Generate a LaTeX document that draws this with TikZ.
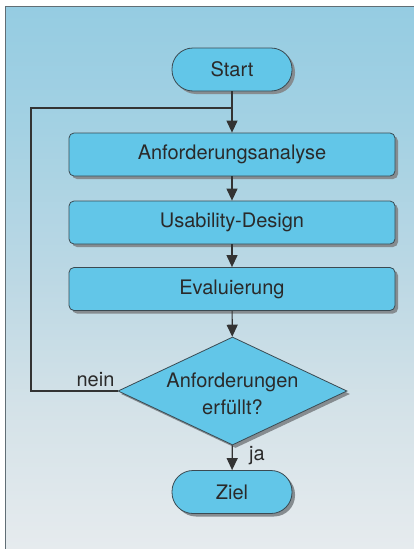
\documentclass[tikz,border=0pt]{standalone}
\usepackage{fontspec}
\setmainfont{TeX Gyre Heros}
\usetikzlibrary{shapes.geometric,shadows,arrows.meta}
\definecolor{bgT}{HTML}{95CCE2}
\definecolor{bgT2}{HTML}{A3D1E3}
\definecolor{bgM}{HTML}{BCD8E4}
\definecolor{bgC}{HTML}{D4E2E8}
\definecolor{bgB}{HTML}{E6EBEE}
\definecolor{boxfill}{HTML}{62C6E8}
\definecolor{boxline}{HTML}{3A4A52}
\definecolor{shadowc}{HTML}{868C90}
\definecolor{txt}{HTML}{2A2A2A}
\definecolor{arrowc}{HTML}{333333}
\pgfdeclareverticalshading{bgshade}{100bp}{color(0bp)=(bgB); color(25bp)=(bgB); color(38bp)=(bgC); color(50bp)=(bgM); color(64bp)=(bgT2); color(75bp)=(bgT); color(100bp)=(bgT)}
\begin{document}
\begin{tikzpicture}[x=1pt,y=-1pt,
  every node/.style={font=\fontsize{20}{27}\selectfont, text=txt},
  shad/.style={drop shadow={shadow xshift=3pt, shadow yshift=-3pt, fill=shadowc, opacity=1}},
  term/.style={draw=boxline, line width=0.8pt, fill=boxfill, shad, minimum width=120pt, minimum height=43pt, rounded corners=21pt, inner sep=0pt},
  proc/.style={draw=boxline, line width=0.8pt, fill=boxfill, shad, minimum width=326pt, minimum height=43pt, rounded corners=5pt, inner sep=0pt},
  decis/.style={diamond, draw=boxline, line width=0.8pt, fill=boxfill, shad, minimum width=229pt, minimum height=108pt, inner sep=0pt},
  conn/.style={draw=arrowc, line width=1.2pt},
  arr/.style={conn, -{Triangle[length=12pt,width=11pt]}},
  lbl/.style={inner sep=0pt}]
\useasboundingbox (0,0) rectangle (414,549);
\shade[shading=bgshade] (5,6) rectangle (414,549);
\draw[line width=1pt, draw=boxline!80] (5,549) -- (5,6) -- (414,6);

\node[term] (start) at (232,69.5) {Start};
\node[proc] (anf) at (232,154.5) {Anforderungsanalyse};
\node[proc] (usa) at (232,222.5) {Usability-Design};
\node[proc] (eva) at (232,289) {Evaluierung};
\node[decis, label={[align=center, text=txt, yshift=-3pt]center:Anforderungen\\erfüllt?}] (dec) at (232.5,391) {};
\node[term] (ziel) at (232,492) {Ziel};

\coordinate (junc) at (232,108);
\coordinate (loopx) at (31,0);

\draw[arr] (start) -- (anf);
\draw[arr] (anf) -- (usa);
\draw[arr] (usa) -- (eva);
\draw[arr] (eva) -- (dec);
\draw[arr] (dec) -- (ziel);
\draw[conn] (dec.west) -- (dec.west -| loopx) |- (junc);

\node[lbl, anchor=south east] (nein) at ([xshift=-3pt,yshift=4pt]dec.west) {nein};
\node[lbl, anchor=west] (ja) at (249,456) {ja};
\end{tikzpicture}
\end{document}
